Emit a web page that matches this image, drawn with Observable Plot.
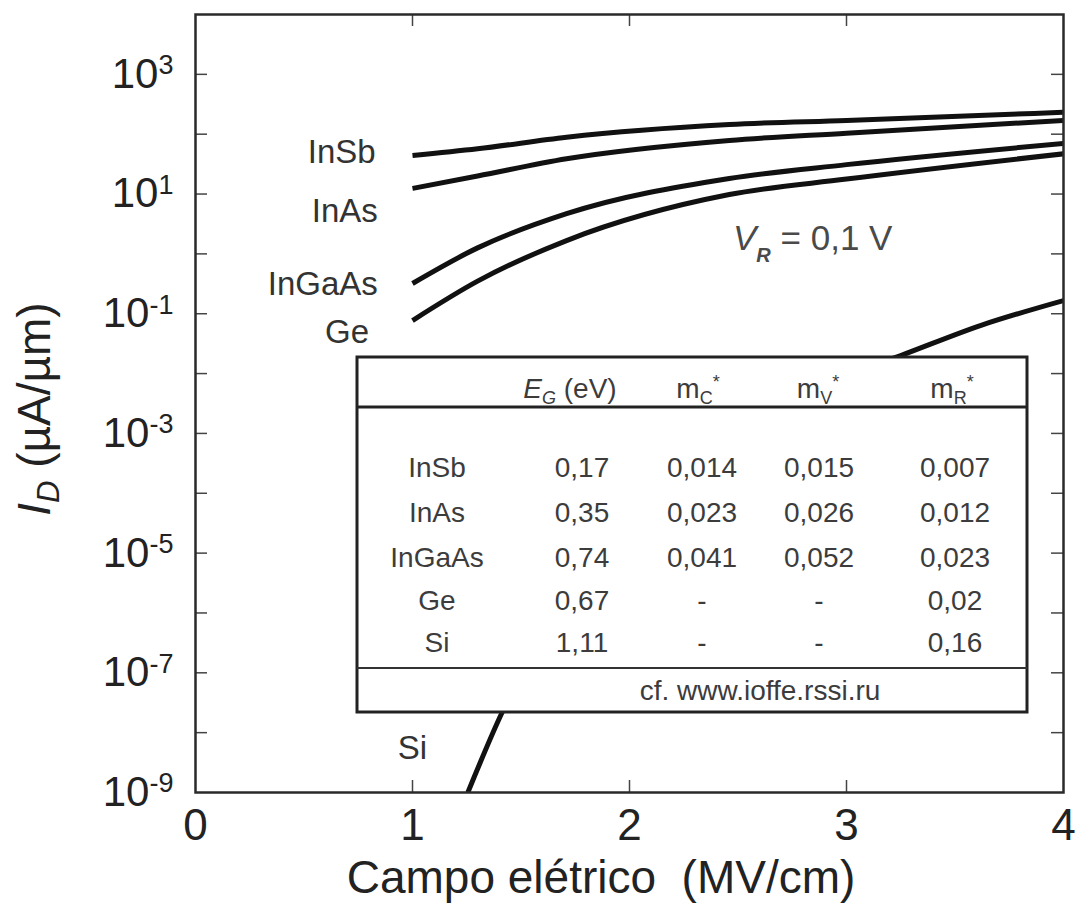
<!DOCTYPE html>
<html>
<head>
<meta charset="utf-8">
<script src="https://cdn.jsdelivr.net/npm/d3@7"></script>
<script src="https://cdn.jsdelivr.net/npm/@observablehq/plot@0.6"></script>
<style>
  body { margin: 0; background: #fff; }
  #chart { width: 1075px; height: 909px; }
  svg text { white-space: pre; }
</style>
</head>
<body>
<div id="chart"></div>
<script>
// Drain current vs. electric field, V_R = 0.1 V
const fieldSteps = [1.0, 1.3, 1.71, 2.46, 3.0, 4.0];          // MV/cm
const idInSb   = [44, 57, 89, 145, 170, 232];                 // µA/µm
const idInAs   = [12.4, 20, 38.8, 78.5, 104, 170];
const idInGaAs = [0.32, 1.26, 4.7, 18.2, 31, 70];
const idGe     = [0.077, 0.35, 1.67, 9.8, 17.8, 47];
const fieldSi  = [1.255, 1.416, 1.6, 2.0, 2.5, 3.0, 3.25, 3.62, 4.0];
const idSi     = [1e-9, 2.3e-8, 3.9e-7, 2.9e-5, 9.3e-4, 9.3e-3, 0.02, 0.064, 0.166];

// Axis ticks
const xTicks = [0, 1, 2, 3, 4];
const xInnerTicks = [1, 2, 3];
const yLabelTicks = [1e3, 1e1, 1e-1, 1e-3, 1e-5, 1e-7, 1e-9];
const yDecades = [1e-8, 1e-7, 1e-6, 1e-5, 1e-4, 1e-3, 1e-2, 1e-1, 1, 1e1, 1e2, 1e3];

// Material parameters (inset table)
const materials = ["InSb", "InAs", "InGaAs", "Ge", "Si"];
const bandGap   = ["0,17", "0,35", "0,74", "0,67", "1,11"];
const massC     = ["0,014", "0,023", "0,041", "-", "-"];
const massV     = ["0,015", "0,026", "0,052", "-", "-"];
const massR     = ["0,007", "0,012", "0,023", "0,02", "0,16"];
const source    = "cf. www.ioffe.rssi.ru";

const curves = [
  {name: "InSb", field: fieldSteps, id: idInSb},
  {name: "InAs", field: fieldSteps, id: idInAs},
  {name: "InGaAs", field: fieldSteps, id: idInGaAs},
  {name: "Ge", field: fieldSteps, id: idGe},
  {name: "Si", field: fieldSi, id: idSi}
];
const rows = curves.flatMap(c => c.field.map((f, i) => ({material: c.name, field: f, id: c.id[i]})));

const W = 1075, H = 909;
const M = {left: 195, right: 12, top: 14, bottom: 117};
const innerW = W - M.left - M.right;
const innerH = H - M.top - M.bottom;
const tickLen = 12;
const xTickSpan = tickLen * 4 / innerW;
const yTickFactor = Math.pow(10, tickLen * 13 / innerH);
const font = "'Liberation Sans', Arial, Helvetica, sans-serif";
const tickStyle = {stroke: "#444", strokeWidth: 1.5};

// Curve names, set to the left of each curve's start
const sideLabels = [
  {text: "InSb", x: 0.83, y: 49.4},
  {text: "InAs", x: 0.84, y: 5.1},
  {text: "InGaAs", x: 0.84, y: 0.31},
  {text: "Ge", x: 0.80, y: 0.049}
];
const siLabel = [{text: "Si", x: 1.0, y: 5.4e-9}];

const chart = Plot.plot({
  width: W,
  height: H,
  marginLeft: M.left,
  marginRight: M.right,
  marginTop: M.top,
  marginBottom: M.bottom,
  style: {fontFamily: font, background: "white", color: "#222", overflow: "visible"},
  x: {domain: [0, 4], label: null},
  y: {type: "log", domain: [1e-9, 1e4], label: null},
  marks: [
    Plot.line(rows, {x: "field", y: "id", z: "material", stroke: "#111", strokeWidth: 5,
      curve: "monotone-x", strokeLinecap: "butt", clip: true}),
    Plot.text(sideLabels, {x: "x", y: "y", text: "text", fontSize: 33, fill: "#333", textAnchor: "end"}),
    Plot.text(siLabel, {x: "x", y: "y", text: "text", fontSize: 33, fill: "#333", textAnchor: "middle"}),
    Plot.ruleY(yDecades, {x1: 0, x2: xTickSpan, ...tickStyle}),
    Plot.ruleY(yDecades, {x1: 4 - xTickSpan, x2: 4, ...tickStyle}),
    Plot.ruleX(xInnerTicks, {y1: 1e-9, y2: 1e-9 * yTickFactor, ...tickStyle}),
    Plot.ruleX(xInnerTicks, {y1: 1e4 / yTickFactor, y2: 1e4, ...tickStyle}),
    Plot.axisX({ticks: xTicks, tickSize: 0, tickPadding: 16, fontSize: 44, fill: "#222",
      tickFormat: d => String(d), label: null}),
    Plot.axisY({ticks: yLabelTicks, tickSize: 0, tickPadding: 22, fontSize: 42, fill: "#222",
      tickFormat: d => "10^" + Math.round(Math.log10(d)), label: null}),
    Plot.frame({stroke: "#2a2a2a", strokeWidth: 2.5})
  ]
});

const svg = d3.select(chart);

// Powers of ten as superscripts
svg.selectAll('g[aria-label="y-axis tick label"] text').each(function() {
  const t = d3.select(this);
  const [base, exp] = t.text().split("^");
  t.text(base);
  t.append("tspan").attr("dy", "-0.5em").attr("font-size", 27).text(exp);
});

// Axis titles
svg.append("text")
  .attr("x", 601).attr("y", 893)
  .attr("text-anchor", "middle")
  .attr("font-family", font).attr("font-size", 46).attr("fill", "#222")
  .text("Campo elétrico  (MV/cm)");

const yTitle = svg.append("text")
  .attr("transform", "translate(50,409) rotate(-90)")
  .attr("text-anchor", "middle")
  .attr("font-family", font).attr("font-size", 46).attr("fill", "#222");
yTitle.append("tspan").attr("font-style", "italic").text("I");
yTitle.append("tspan").attr("font-style", "italic").attr("font-size", 31).attr("dy", 9).text("D");
yTitle.append("tspan").attr("dy", -9).text(" (µA/µm)");

// Bias annotation
const vr = svg.append("text")
  .attr("x", 733).attr("y", 250)
  .attr("text-anchor", "start")
  .attr("font-family", font).attr("font-size", 35).attr("fill", "#4a4a4a");
vr.append("tspan").attr("font-style", "italic").text("V");
vr.append("tspan").attr("font-style", "italic").attr("font-weight", "bold").attr("font-size", 20).attr("dy", 12).text("R");
vr.append("tspan").attr("dy", -12).text(" = 0,1 V");

// Inset table of material parameters
const T = {left: 357, top: 357, right: 1027, bottom: 712, head: 407, foot: 668};
const tbl = svg.append("g").attr("font-family", font).attr("fill", "#3c3c3c").attr("font-size", 28);
tbl.append("rect")
  .attr("x", T.left).attr("y", T.top)
  .attr("width", T.right - T.left).attr("height", T.bottom - T.top)
  .attr("fill", "white").attr("stroke", "#222").attr("stroke-width", 3);
tbl.append("line").attr("x1", T.left).attr("x2", T.right).attr("y1", T.head).attr("y2", T.head)
  .attr("stroke", "#222").attr("stroke-width", 3);
tbl.append("line").attr("x1", T.left).attr("x2", T.right).attr("y1", T.foot).attr("y2", T.foot)
  .attr("stroke", "#333").attr("stroke-width", 2);

const colX = [437, 582, 702, 819, 955];
const headX = [570, 698, 818, 952];
const rowY = [467, 512, 557, 600, 642];
const base = y => y + 10;

function header(x, main, sub, tail, mainItalic) {
  const t = tbl.append("text").attr("x", x).attr("y", base(388)).attr("text-anchor", "middle");
  t.append("tspan").attr("font-style", mainItalic ? "italic" : null).text(main);
  t.append("tspan").attr("font-size", 18).attr("dy", 6).attr("font-style", mainItalic ? "italic" : null).text(sub);
  t.append("tspan").attr("dy", tail === "*" ? -16 : -6).attr("font-size", tail === "*" ? 18 : null).text(tail);
}
header(headX[0], "E", "G", " (eV)", true);
header(headX[1], "m", "C", "*", false);
header(headX[2], "m", "V", "*", false);
header(headX[3], "m", "R", "*", false);

const columns = [materials, bandGap, massC, massV, massR];
columns.forEach((col, c) => {
  col.forEach((v, r) => {
    tbl.append("text").attr("x", colX[c]).attr("y", base(rowY[r]))
      .attr("text-anchor", "middle").text(v);
  });
});
tbl.append("text").attr("x", 760).attr("y", base(690)).attr("text-anchor", "middle").text(source);

document.getElementById("chart").append(chart);
</script>
</body>
</html>
